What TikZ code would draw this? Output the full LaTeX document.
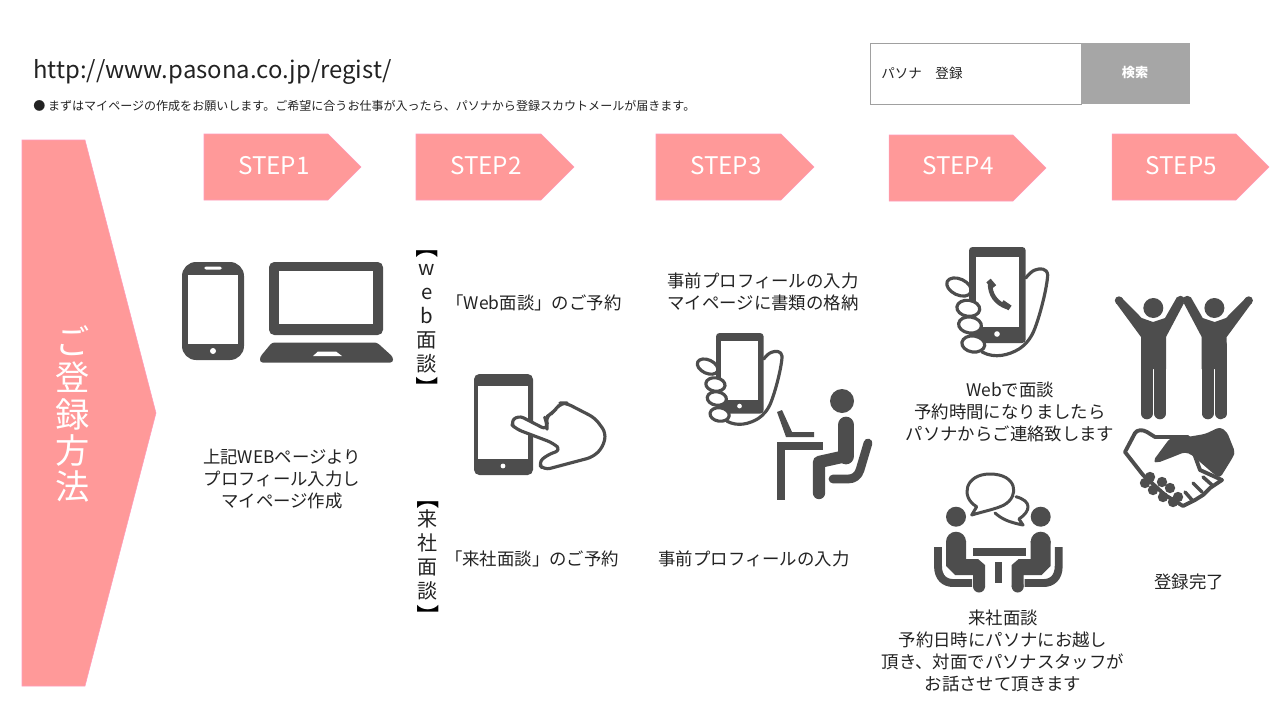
\documentclass[tikz,border=0pt]{standalone}
\usepackage{fontspec}
\setmainfont{Noto Sans CJK JP}
\definecolor{penPink}{HTML}{FF9999}
\definecolor{edgePink}{HTML}{FF99BB}
\definecolor{penIcon}{HTML}{4D4D4D}
\definecolor{penText}{HTML}{222222}
\definecolor{penButton}{HTML}{A6A6A6}
\definecolor{penBox}{HTML}{A0A0A0}
\tikzset{
  stepshape/.style={fill=penPink,draw=edgePink,line width=.3pt},
  steptext/.style={text=white,font=\fontsize{13.8}{16}\selectfont},
  bodytext/.style={text=penText,align=center,inner sep=0pt,font=\fontsize{9.9}{12.47}\selectfont},
  bracketmark/.style={rotate=-90,inner sep=0pt,text=black,font=\fontsize{13}{15}\selectfont},
  icon/.style={fill=penIcon,draw=none},
  iconline/.style={draw=penIcon,fill=white,line width=1.8pt,line join=round,line cap=round},
  limb/.style={draw=penIcon,line cap=round,line join=round},
}
\newcommand{\holdphone}{
  \draw [iconline] (56.7,31) .. controls (60,27) and (63,24) .. (66,23) .. controls (71,21) and (78,21) .. (78.7,28) .. controls (78,40) and (72,65) .. (66,81) .. controls (62,92) and (56,98) .. (50,102) .. controls (40,108) and (26,112) .. (13,105);
  \draw [iconline,rotate around={-25:(-10,40)}] (-10,40) ellipse [x radius=13,y radius=8];
  \fill [icon,rounded corners=2] (0,0) rectangle (56.7,96);
  \fill [white] (6.5,10) rectangle (50,80);
  \fill [white] (28,87) circle (2.8);
  \draw [iconline,rotate around={-8:(-.7,61.3)}] (-.7,61.3) ellipse [x radius=11.5,y radius=8];
  \draw [iconline,rotate around={-8:(1,78)}] (1,78) ellipse [x radius=11.5,y radius=8];
  \draw [iconline,rotate around={-8:(4.3,97)}] (4.3,97) ellipse [x radius=11.5,y radius=8];
}
\newcommand{\raisedperson}{
  \fill [penIcon] (1153.3,308) circle (10);
  \fill [penIcon] (1119,300.5) circle (4.2);
  \fill [penIcon] (1180.5,300) circle (4.2);
  \fill [icon] (1141,337) -- (1116,303) -- (1122,298) -- (1141.7,318) -- (1153,322) -- (1165,318) -- (1177,297) -- (1184,303) -- (1166,337) -- (1166,369) -- (1141,369) -- cycle;
  \draw [limb,line width=6.6pt] (1146.8,345) -- (1146.8,413.5);
  \draw [limb,line width=6.6pt] (1160,345) -- (1160,413.5);
}
\newcommand{\seatedperson}{
  \fill [penIcon] (956,516.7) circle (10);
  \fill [penIcon] (956,541.7) circle (10);
  \fill [icon] (946,541) -- (966,541) -- (966,559) -- (978,559) -- (985,565) -- (985,587) -- (973,587) -- (973,575) -- (955,575) -- (946,566) -- cycle;
  \fill [penIcon] (979,586.5) circle (6);
  \draw [limb,line width=4.5pt,line cap=butt] (938,547) -- (938,566) .. controls (938,578) and (945,583) .. (953,583) -- (972,583);
}
\begin{document}
\begin{tikzpicture}[x=.02cm,y=-.02cm]
  \useasboundingbox (0,0) rectangle (1280,720);
  \node [anchor=west,inner sep=0pt,text=penText,font=\fontsize{13.6}{17}\selectfont] (url) at (33,72) {http://www.pasona.co.jp/regist/};
  \node [anchor=west,inner sep=0pt,text=penText,font=\fontsize{6.85}{9}\selectfont] (note) at (33,106) {● まずはマイページの作成をお願いします。ご希望に合うお仕事が入ったら、パソナから登録スカウトメールが届きます。};
  \draw [draw=penBox,fill=white,line width=.4pt] (870,43) rectangle (1081,104);
  \fill [penButton] (1081,43) rectangle (1190,104);
  \node [anchor=west,inner sep=0pt,text=penText,font=\fontsize{7.7}{9}\selectfont] (searchword) at (881,73) {パソナ　登録};
  \node [text=white,font=\fontsize{7.5}{9}\bfseries\selectfont] (searchbutton) at (1135,73) {検索};
  \draw [stepshape] (22,140) -- (85,140) -- (156,413) -- (85,686) -- (22,686) -- cycle;
  \node [text=white,align=center,inner sep=0pt,font=\fontsize{19.5}{20.6}\selectfont] (howto) at (73,414) {ご\\登\\録\\方\\法};
  \draw [stepshape] (204,134) -- (328,134) -- (361,167) -- (328,200) -- (204,200) -- cycle;
  \draw [stepshape] (416,134) -- (541,134) -- (574,167) -- (541,200) -- (416,200) -- cycle;
  \draw [stepshape] (656,134) -- (781,134) -- (814,167) -- (781,200) -- (656,200) -- cycle;
  \draw [stepshape] (889,135) -- (1013,135) -- (1046,168) -- (1013,201) -- (889,201) -- cycle;
  \draw [stepshape] (1112,134) -- (1236,134) -- (1269,167) -- (1236,200) -- (1112,200) -- cycle;
  \node [steptext] (step1) at (274,166) {STEP1};
  \node [steptext] (step2) at (486,166) {STEP2};
  \node [steptext] (step3) at (726,166) {STEP3};
  \node [steptext] (step4) at (958,166) {STEP4};
  \node [steptext] (step5) at (1181,166) {STEP5};
  \fill [icon,rounded corners=8] (182,262) rectangle (244,360);
  \fill [white] (188,275) rectangle (238,344);
  \fill [white,rounded corners=1] (204,266.5) rectangle (222,269.5);
  \fill [white] (213,351) circle (3);
  \fill [icon,rounded corners=3] (269,262) rectangle (383,335);
  \fill [white] (279,271) rectangle (373,324);
  \fill [icon,rounded corners=1.5] (272,342.5) -- (377,342.5) -- (393,357) -- (393,362.5) -- (260,362.5) -- (260,357) -- cycle;
  \fill [white] (318,351.5) -- (336,351.5) -- (342,356) -- (313,356) -- cycle;
  \node [bodytext] (step1text) at (282,479) {上記WEBページより\\プロフィール入力し\\マイページ作成};
  \node [bracketmark] (webopen) at (427,247) {【};
  \node [bodytext,font=\fontsize{11.6}{13.6}\selectfont] (weblabel) at (427,319) {w\\e\\b\\面\\談};
  \node [bracketmark] (webclose) at (427,388) {】};
  \node [bracketmark] (visitopen) at (428,498) {【};
  \node [bodytext,font=\fontsize{11.4}{13.6}\selectfont] (visitlabel) at (428,555) {来\\社\\面\\談};
  \node [bracketmark] (visitclose) at (428,616) {】};
  \node [bodytext] (webbook) at (534,303) {「Web面談」のご予約};
  \node [bodytext] (visitbook) at (532,559) {「来社面談」のご予約};
  \fill [icon,rounded corners=3] (474,374) rectangle (533,475);
  \fill [white] (478,386) rectangle (528,459);
  \fill [white] (503,466) circle (2.4);
  \draw [iconline,rounded corners=3.5] (510,423) -- (518,415) -- (547,430) -- (547,423) -- (545,418) -- (552,413) -- (555,410) -- (561,403) -- (566,403) -- (595,418) -- (606,433) -- (603,447) -- (593,457) -- (544,470) -- (538,463) -- (547,455) -- (561,450) -- (553,443) -- (516,429) -- cycle;
  \node [bodytext] (step3text) at (763,292) {事前プロフィールの入力\\マイページに書類の格納};
  \node [bodytext] (step3visit) at (754,559) {事前プロフィールの入力};
  \begin{scope}[shift={(716,333)},scale=.84]
    \holdphone
  \end{scope}
  \fill [penIcon] (842,401) circle (12);
  \draw [limb,line width=9.5pt] (846,425) -- (846,456);
  \draw [limb,line width=7pt] (846,456) -- (819,462) -- (819,493);
  \draw [limb,line width=5pt] (868,443) -- (860,470) .. controls (858,476) and (854,479) .. (848,479) -- (833,479);
  \fill [icon] (777,442) rectangle (823,450);
  \fill [icon] (777,442) rectangle (785,500);
  \fill [icon] (777,412) -- (782,410) -- (792,432) -- (814,432) -- (814,437) -- (786,437) -- cycle;
  \begin{scope}[shift={(969,247)}]
    \holdphone
    \draw [limb,line width=2.6pt] (21,36) .. controls (21,48) and (27,56) .. (38,60);
    \draw [limb,line width=3.2pt,line cap=butt] (19.5,33.5) -- (25,40);
    \draw [limb,line width=3.2pt,line cap=butt] (33,55.5) -- (41,61);
  \end{scope}
  \node [bodytext] (webmeet) at (1010,412) {Webで面談\\予約時間になりましたら\\パソナからご連絡致します};
  \draw [iconline,line width=1.7pt] (995,513) .. controls (1002,519) and (1008,522) .. (1023,525) -- (1019,519);
  \draw [iconline,fill=none,line width=1.7pt] (1019,519) .. controls (1031,511) and (1032,501) .. (1016,496.7);
  \draw [iconline,line width=1.7pt] (971.7,515) -- (976.7,506.7) .. controls (960,497) and (965,474) .. (990,474) .. controls (1017,474) and (1020,496) .. (1004,505) .. controls (996,509) and (985,511) .. (971.7,515) -- cycle;
  \seatedperson
  \begin{scope}[shift={(1996.7,0)},xscale=-1]
    \seatedperson
  \end{scope}
  \fill [icon] (973,548) rectangle (1026,556);
  \fill [icon] (995,562) rectangle (1002,583);
  \node [bodytext] (visitmeet) at (1003,651) {来社面談\\予約日時にパソナにお越し\\頂き、対面でパソナスタッフが\\お話させて頂きます};
  \raisedperson
  \begin{scope}[shift={(2367.7,0)},xscale=-1]
    \raisedperson
  \end{scope}
  \draw [iconline,line width=2.2pt] (1125,452) -- (1135,433) .. controls (1137,430) and (1142,429) .. (1147,432) -- (1155,437) -- (1188,437) -- (1200,470) -- (1222,480) -- (1210,488) -- (1203,495) -- (1195,500) -- (1183,506) -- (1165,495) -- (1143,475) -- cycle;
  \fill [icon,rounded corners=2] (1153,461) -- (1170,438) -- (1187,437) -- (1205,434) -- (1220,427) -- (1227,432) -- (1235,452) -- (1233,457) -- (1220,478) -- (1215,475) -- (1192,455) -- (1185,452) -- (1170,458) -- (1157,463) -- cycle;
  \fill [penIcon] (1150,477) circle (5.2);
  \fill [penIcon] (1162,482) circle (5.2);
  \fill [penIcon] (1170,488) circle (5.2);
  \fill [penIcon] (1178,497) circle (5.2);
  \fill [penIcon] (1145,483) circle (5.2);
  \fill [penIcon] (1153,490) circle (5.2);
  \fill [penIcon] (1163,497) circle (5.2);
  \fill [penIcon] (1173,502) circle (5.2);
  \draw [limb,line width=2pt] (1203,477) -- (1212,485);
  \draw [limb,line width=2pt] (1193,483) -- (1202,492);
  \draw [limb,line width=2pt] (1185,492) -- (1192,500);
  \node [bodytext] (donetext) at (1189,582) {登録完了};
\end{tikzpicture}
\end{document}
